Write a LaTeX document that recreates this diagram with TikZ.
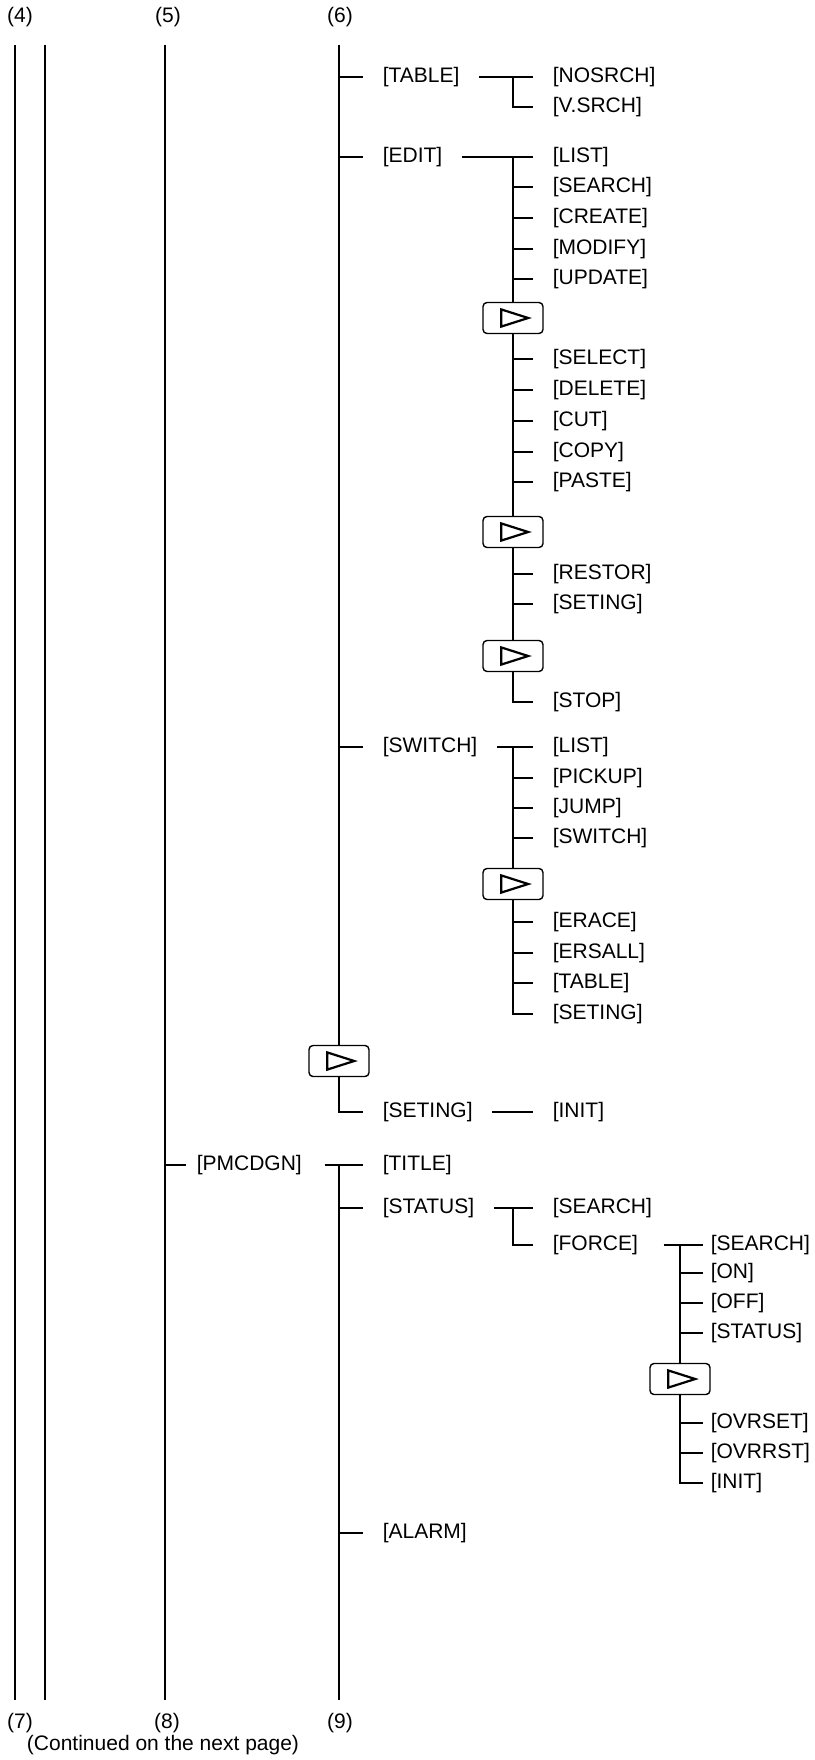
\documentclass[tikz,border=0pt]{standalone}
\usepackage{fontspec}
\setmainfont{Liberation Sans}
\usetikzlibrary{positioning}

\tikzset{
  item/.style={anchor=west, inner xsep=9.5pt},
  tag/.style={inner sep=1pt},
  nextkey/.style={draw, fill=white, rounded corners=2pt, line width=0.7pt,
    minimum width=30pt, minimum height=15.5pt,
    path picture={\draw[sharp corners, line width=1.1pt, line join=miter]
      ([shift={(-5.9pt,4.3pt)}]path picture bounding box.center) -- ++(13.5pt,-4.3pt)
      -- ++(-13.5pt,-4.3pt) -- cycle;}}
}

\begin{document}
\begin{tikzpicture}[x=0.5pt, y=-0.5pt, line width=0.75pt, font=\fontsize{10.5}{12}\selectfont]
  \useasboundingbox (0,0) rectangle (814,1760);

  \node[tag] (n4) at (20,17) {(4)};
  \node[tag] (n5) at (168,17) {(5)};
  \node[tag] (n6) at (340,17) {(6)};
  \node[tag] (n7) at (20,1723) {(7)};
  \node[tag] (n8) at (167,1723) {(8)};
  \node[tag] (n9) at (340,1723) {(9)};
  \node[tag] (cont) at (163,1745) {(Continued on the next page)};

  \coordinate (top) at (0,45);
  \coordinate (bot) at (0,1700);
  \coordinate (c4a) at (15,0);
  \coordinate (c4b) at (45,0);
  \coordinate (c5) at (165,0);
  \coordinate (c6) at (339,0);
  \coordinate (bA) at (513,0);
  \coordinate (bF) at (680,0);

  \foreach \c in {c4a,c4b,c5}
    \draw (\c |- top) -- (\c |- bot);

  % column (6)
  \node[item] (table) at (363,77) {[TABLE]};
  \node[item] (edit) at (363,157) {[EDIT]};
  \node[item] (switch) at (363,747) {[SWITCH]};
  \node[item] (seting) at (363,1112) {[SETING]};
  \draw (c6 |- top) |- (seting.west);
  \foreach \n in {table,edit,switch}
    \draw (c6 |- \n) -- (\n.west);

  \node[item] (nosrch) at (533,77) {[NOSRCH]};
  \node[item] (vsrch) at (533,107) {[V.SRCH]};
  \draw (table.east) -- (nosrch.west);
  \draw (bA |- nosrch) |- (vsrch.west);

  \foreach \n/\t/\y in {1/LIST/157, 2/SEARCH/187, 3/CREATE/218, 4/MODIFY/249, 5/UPDATE/279,
      6/SELECT/359, 7/DELETE/390, 8/CUT/421, 9/COPY/452, 10/PASTE/482,
      11/RESTOR/574, 12/SETING/604, 13/STOP/702}
    \node[item] (e\n) at (533,\y) {[\t]};
  \draw (edit.east) -- (e1.west);
  \draw (bA |- e1) |- (e13.west);
  \foreach \n in {2,...,12}
    \draw (bA |- e\n) -- (e\n.west);
  \node[nextkey] (k1) at (513,318) {};
  \node[nextkey] (k2) at (513,532) {};
  \node[nextkey] (k3) at (513,656) {};

  \foreach \n/\t/\y in {1/LIST/747, 2/PICKUP/778, 3/JUMP/808, 4/SWITCH/838,
      5/ERACE/922, 6/ERSALL/953, 7/TABLE/983, 8/SETING/1014}
    \node[item] (s\n) at (533,\y) {[\t]};
  \draw (switch.east) -- (s1.west);
  \draw (bA |- s1) |- (s8.west);
  \foreach \n in {2,...,7}
    \draw (bA |- s\n) -- (s\n.west);
  \node[nextkey] (k4) at (513,884) {};

  \node[nextkey] (k5) at (339,1061) {};
  \node[item] (init) at (533,1112) {[INIT]};
  \draw (seting.east) -- (init.west);

  % column (5) -> (9)
  \node[item, inner xsep=5pt] (pmcdgn) at (186,1165) {[PMCDGN]};
  \draw (c5 |- pmcdgn) -- (pmcdgn.west);
  \node[item] (title) at (363,1165) {[TITLE]};
  \node[item] (status) at (363,1208) {[STATUS]};
  \node[item] (alarm) at (363,1533) {[ALARM]};
  \draw ([xshift=6pt]pmcdgn.east) -- (title.west);
  \draw (c6 |- pmcdgn) -- (c6 |- bot);
  \foreach \n in {status,alarm}
    \draw (c6 |- \n) -- (\n.west);

  \node[item] (ssearch) at (533,1208) {[SEARCH]};
  \node[item] (force) at (533,1245) {[FORCE]};
  \draw (status.east) -- (ssearch.west);
  \draw (bA |- ssearch) |- (force.west);

  \foreach \n/\t/\y in {1/SEARCH/1245, 2/ON/1273, 3/OFF/1303, 4/STATUS/1333,
      5/OVRSET/1423, 6/OVRRST/1453, 7/INIT/1483}
    \node[item, inner xsep=3.5pt] (fc\n) at (703,\y) {[\t]};
  \draw ([xshift=3pt]force.east) -- (fc1.west);
  \draw (bF |- fc1) |- (fc7.west);
  \foreach \n in {2,...,6}
    \draw (bF |- fc\n) -- (fc\n.west);
  \node[nextkey] (k6) at (680,1379) {};
\end{tikzpicture}
\end{document}
